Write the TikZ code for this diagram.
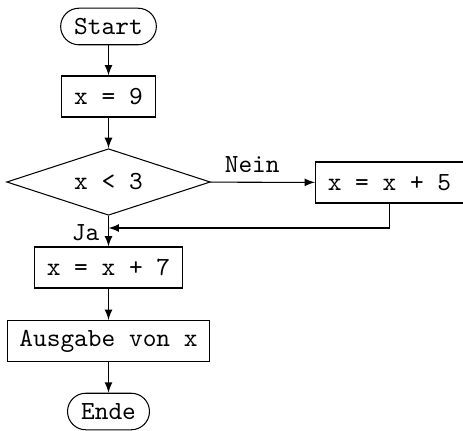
\documentclass[tikz,border=0pt]{standalone}
\usepackage{tikz}
\usetikzlibrary{arrows,shapes,positioning}
\tikzstyle{arrow} = [->,>=latex]
\tikzstyle{term} = [draw, rectangle, rounded corners=7pt, font=\ttfamily, inner xsep=5.2pt, minimum height=14pt]
\tikzstyle{proc} = [draw, rectangle, font=\ttfamily, inner xsep=4.7pt, minimum height=15.7pt]
\tikzstyle{decide} = [draw, diamond, aspect=3, font=\ttfamily, inner sep=0pt, minimum width=78pt, minimum height=25.5pt]

\begin{document}
\begin{tikzpicture}[x=0.383pt, y=-0.383pt]
\useasboundingbox (0,0) rectangle (463,430);

% Main column
\node[term] (start) at (108.5,26.5) {Start};
\node[proc] (init) at (108.5,96.5) {x = 9};
\node[decide] (test) at (108.5,182) {x < 3};
\node[proc] (add7) at (108.5,267.5) {x = x + 7};
\node[proc] (out) at (108.5,341) {Ausgabe von x};
\node[term] (stop) at (108.5,411.5) {Ende};

% Side branch
\node[proc] (add5) at (389.5,182.5) {x = x + 5};
\coordinate (merge) at (108.5,228);

% Arrows
\draw[arrow] (start) -- (init);
\draw[arrow] (init) -- (test);
\draw[arrow] (test) -- node[above, pos=0.4] {\ttfamily Nein} (add5);
\draw[arrow] (test) -- (add7);
\draw[arrow] (add5.south) |- (merge);
\draw[arrow] (add7) -- (out);
\draw[arrow] (out) -- (stop);

% Label
\node[left, font=\ttfamily] (ja) at (108.5,233) {Ja};
\end{tikzpicture}
\end{document}
